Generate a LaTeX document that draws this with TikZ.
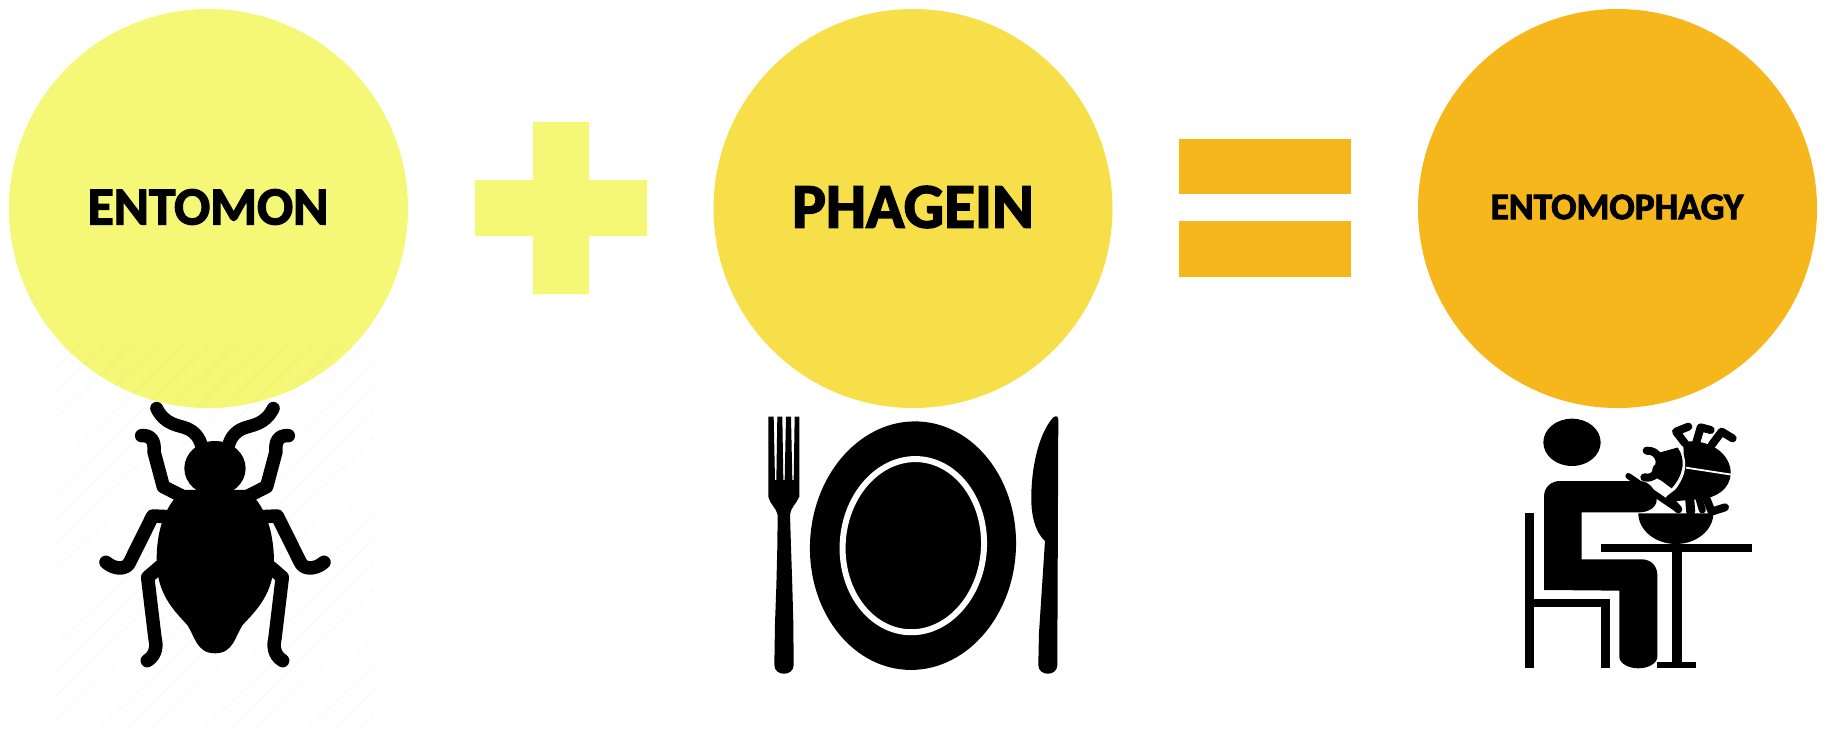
\documentclass[tikz,border=0pt]{standalone}
\usepackage{fontspec}
\setmainfont[BoldFeatures={FakeBold=2.5}]{Carlito}
\definecolor{cA}{HTML}{F5F777}
\definecolor{cB}{HTML}{F7DF4A}
\definecolor{cC}{HTML}{F6B71C}
\tikzset{
  disc/.style={circle,minimum size=399pt,inner sep=0pt},
  glyph/.style={fill=black,draw=none},
  limb/.style={draw=black,line width=#1,line cap=round,line join=round},
  limb/.default=10pt,
  word/.style={text=black,inner sep=0pt}
}
\begin{document}
\begin{tikzpicture}[x=1pt,y=-1pt]
\useasboundingbox (0,0) rectangle (1825,729);
\node[disc,fill=cA] (c1) at (208.5,208.5) {};
\node[disc,fill=cB] (c2) at (913,208.5) {};
\node[disc,fill=cC] (c3) at (1617.5,208.5) {};
% faint hatching behind the bug
\begin{scope}
\clip (54,344) rectangle (374,729);
\foreach \k in {-400,-374,...,400}{
  \draw[black,opacity=0.015,line width=2pt] (\k-20,729) -- (\k+380,340);
}
\end{scope}
\node[word,font=\bfseries\fontsize{53.5}{53.5}\selectfont] (t1) at (208,207) {ENTOMON};
\node[word,font=\bfseries\fontsize{63.5}{63.5}\selectfont] (t2) at (913,207) {PHAGEIN};
\node[word,font=\bfseries\fontsize{37.5}{37.5}\selectfont] (t3) at (1617,207) {ENTOMOPHAGY};
% plus
\fill[cA] (533,122) -- (589,122) -- (589,180) -- (647,180) -- (647,236) -- (589,236) -- (589,294) -- (533,294) -- (533,236) -- (475,236) -- (475,180) -- (533,180) -- cycle;
% equals
\fill[cC] (1179,139) rectangle (1351,194);
\fill[cC] (1179,221) rectangle (1351,277);
% bug
\begin{scope}[shift={(50,340)},x=0.3333pt,y=-0.3333pt]
  \fill[glyph] (495,385) ellipse (92 and 82);
  \fill[glyph] (400,450) -- (590,450) .. controls (640,490) and (670,560) .. (672,660)
     .. controls (672,760) and (620,810) .. (578,855)
     .. controls (555,890) and (550,940) .. (495,940)
     .. controls (440,940) and (435,890) .. (412,855)
     .. controls (370,810) and (320,760) .. (320,660)
     .. controls (320,560) and (350,490) .. (400,450) -- cycle;
  \foreach \m in {1,-1}{
  \begin{scope}[shift={(495,0)},xscale=\m]
    \draw[limb=13pt] (-175,205) .. controls (-150,255) and (-110,255) .. (-85,265) .. controls (-60,275) and (-45,295) .. (-40,320);
    \draw[limb=13.5pt] (-220,287) .. controls (-190,285) and (-180,305) .. (-183,335) -- (-155,440) -- (-100,468);
    \draw[limb=13.5pt] (-327,667) .. controls (-300,690) and (-265,690) .. (-255,665) -- (-187,528) -- (-140,530);
    \draw[limb=13.5pt] (-203,962) .. controls (-175,945) and (-175,915) .. (-180,895) -- (-202,712) -- (-165,680);
  \end{scope}}
\end{scope}
% plate, fork, knife
\begin{scope}[shift={(740,400)},x=0.3333pt,y=-0.3333pt]
  \fill[glyph,rotate around={-3:(519,437)}] (519,437) ellipse (309 and 373);
  \draw[white,line width=6pt,rotate around={-4:(520,437)}] (520,437) ellipse (212 and 260);
  \fill[glyph] (85,50) -- (101,50) -- (105,240) -- (109,240) -- (112,50) -- (127,50) -- (130,240) -- (134,240) -- (138,50) -- (153,50) -- (157,240) -- (161,240) -- (164,50) -- (178,50)
     -- (178,290) .. controls (170,310) and (150,325) .. (150,345)
     -- (153,440) -- (157,560) -- (160,670) -- (161,795) .. controls (161,830) and (103,830) .. (103,795)
     -- (105,670) -- (109,560) -- (112,440) -- (113,345)
     .. controls (110,325) and (88,310) .. (85,290) -- cycle;
  \fill[glyph] (940,52) .. controls (950,45) and (955,50) .. (955,60)
     -- (952,795) .. controls (952,830) and (895,830) .. (895,795)
     -- (897,700) -- (910,500) -- (915,423)
     .. controls (880,390) and (870,330) .. (875,260)
     .. controls (880,170) and (905,90) .. (940,52) -- cycle;
\end{scope}
% person eating
\begin{scope}[shift={(1500,400)},x=0.3333pt,y=-0.3333pt]
  \fill[glyph] (216,127) ellipse (86 and 71);
  \fill[glyph] (132,570) -- (132,290) .. controls (132,260) and (155,243) .. (180,243)
     -- (420,243) .. controls (450,243) and (470,275) .. (470,300) .. controls (470,325) and (440,337) .. (420,337)
     -- (245,337) -- (245,478) -- (425,478) .. controls (455,478) and (472,500) .. (472,525)
     -- (472,770) .. controls (472,790) and (445,805) .. (415,805) .. controls (385,805) and (358,790) .. (358,770)
     -- (358,572) -- cycle;
  \fill[glyph] (75,338) rectangle (103,805);
  \fill[glyph] (103,597) rectangle (330,620);
  \fill[glyph] (303,597) rectangle (330,805);
  \fill[glyph] (303,432) rectangle (757,455);
  \fill[glyph] (517,455) rectangle (547,785);
  \fill[glyph] (472,785) rectangle (587,805);
  \fill[glyph] (415,340) .. controls (415,390) and (465,432) .. (528,432) .. controls (590,432) and (640,390) .. (640,340) -- cycle;
  % insect in the bowl
  \fill[glyph] (550,125) .. controls (640,115) and (695,170) .. (692,222)
     .. controls (690,265) and (650,295) .. (600,297) -- (510,305) -- (525,270) -- (552,210) -- cycle;
  \fill[glyph] (535,142) .. controls (555,175) and (555,220) .. (515,265)
     .. controls (500,255) and (485,240) .. (470,235) -- (465,200) -- (470,160) -- cycle;
  \draw[limb=8pt] (478,178) .. controls (472,158) and (458,152) .. (440,152);
  \draw[limb=8pt] (470,205) .. controls (470,225) and (458,236) .. (433,232);
  \draw[white,line width=1.8pt] (535,140) .. controls (562,180) and (560,220) .. (522,270);
  \draw[white,line width=1.8pt] (558,203) -- (695,224);
  \draw[limb=8pt] (555,130) -- (528,95) -- (565,80);
  \draw[limb=8pt] (588,130) -- (602,82) -- (632,90);
  \draw[limb=8pt] (635,135) -- (665,95) -- (698,115);
  \draw[limb=8pt] (560,258) -- (508,298) -- (535,328);
  \draw[limb=9pt] (568,280) -- (572,335);
  \draw[limb=7pt] (595,290) -- (607,330);
  \draw[limb=8pt] (615,285) -- (635,335) -- (675,322);
  % spoon
  \draw[limb=6pt] (385,228) -- (535,330);
\end{scope}
\end{tikzpicture}
\end{document}
